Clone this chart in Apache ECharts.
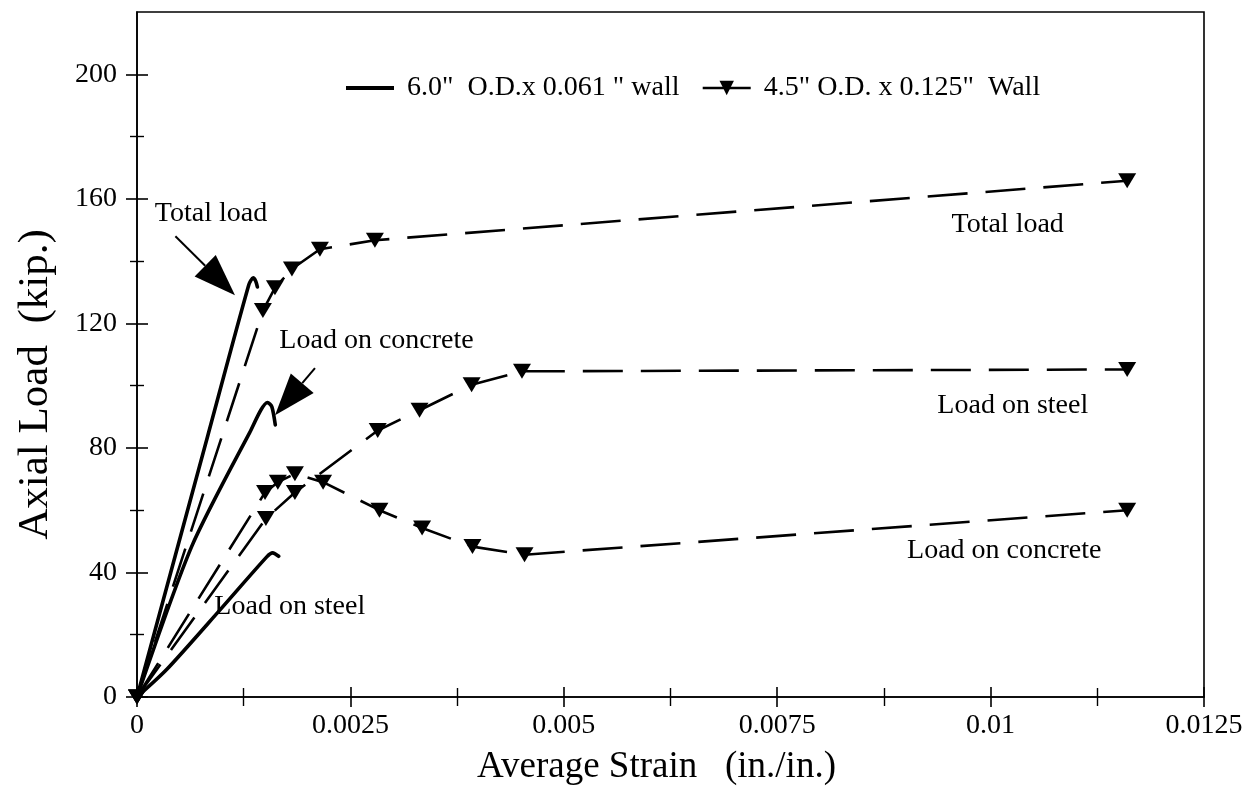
<!DOCTYPE html>
<html>
<head>
<meta charset="utf-8">
<script src="https://cdn.jsdelivr.net/npm/echarts@6/dist/echarts.min.js"></script>
<style>
  html, body { margin: 0; padding: 0; background: #ffffff; }
  #chart { width: 1249px; height: 793px; }
</style>
</head>
<body>
<div id="chart"></div>
<script>
// Axis tick labels
const xTickLabels = ['0', '0.0025', '0.005', '0.0075', '0.01', '0.0125'];
const yTickLabels = ['0', '40', '80', '120', '160', '200'];
const yTickValues = [0, 40, 80, 120, 160, 200];

// Specimen names (legend)
const tubeNames = ['6.0"  O.D.x 0.061 " wall', '4.5" O.D. x 0.125"  Wall'];

// 6.0" O.D. tube: [average strain, axial load (kip)]
const tube6Total    = [[0, 0], [0.00083, 84.0], [0.00131, 132.4], [0.00136, 134.6], [0.00139, 133.6], [0.00141, 131.7]];
const tube6Concrete = [[0, 0], [0.00064, 48.3], [0.00132, 84.9], [0.00153, 94.6], [0.00158, 93.2], [0.00162, 87.4]];
const tube6Steel    = [[0, 0], [0.00035, 8.9], [0.00097, 27.9], [0.00152, 45.0], [0.00159, 46.3], [0.00166, 45.2]];

// 4.5" O.D. tube: [average strain, axial load (kip)]
const tube45Total    = [[0, 0], [0.001475, 124.1], [0.001616, 131.4], [0.001815, 137.5], [0.002143, 143.8], [0.002787, 146.7], [0.0116, 165.8]];
const tube45Concrete = [[0, 0], [0.0015, 65.7], [0.00165, 69.0], [0.00185, 71.7], [0.00218, 69.0], [0.00284, 60.0], [0.00334, 54.3], [0.00393, 48.3], [0.00454, 45.7], [0.0116, 60.0]];
const tube45Steel    = [[0, 0], [0.00151, 57.3], [0.00185, 65.7], [0.00282, 85.6], [0.00331, 92.1], [0.00392, 100.3], [0.00451, 104.6], [0.0116, 105.2]];

// Curve captions, anchored in data units [strain, load]
const captionText = ['Total load', 'Load on concrete', 'Total load', 'Load on steel', 'Load on concrete', 'Load on steel'];
const captionAt   = [[0.000867, 155.4], [0.002806, 114.3], [0.0102, 151.6], [0.01026, 93.7], [0.01016, 46.9], [0.00179, 29.0]];
// Pointer arrows: tail -> tip, in data units
const arrowTail = [[0.00045, 148.0], [0.002085, 105.6]];
const arrowTip  = [[0.001148, 129.0], [0.001617, 90.5]];

const FONT = '"Liberation Serif", "Times New Roman", serif';
const INK = '#000000';

const chart = echarts.init(document.getElementById('chart'), null, { renderer: 'canvas' });

function xLabel(v) { return xTickLabels[Math.round(v / 0.0025)] ?? ''; }
function yLabel(v) { return yTickLabels[Math.round(v / 40)] ?? ''; }

const solid = (data) => ({
  name: tubeNames[0], type: 'line', data, smooth: 0.25, symbol: 'none',
  lineStyle: { color: INK, width: 3.6, cap: 'round', join: 'round' },
  itemStyle: { color: INK }, z: 3
});
const dashed = (data) => ({
  name: tubeNames[1], type: 'line', data, smooth: false,
  symbol: 'triangle', symbolRotate: 180, symbolSize: [18, 15],
  lineStyle: { color: INK, width: 2.6, type: [40, 18] },
  itemStyle: { color: INK }, z: 4
});

const baseX = {
  type: 'value', min: 0, max: 0.0125, interval: 0.0025,
  splitLine: { show: false },
  minorSplitLine: { show: false }
};
const baseY = {
  type: 'value', min: 0, max: 220, interval: 40,
  splitLine: { show: false },
  minorSplitLine: { show: false }
};

chart.setOption({
  animation: false,
  backgroundColor: '#ffffff',
  grid: {
    left: 137, right: 45, top: 12, bottom: 96,
    show: true, borderColor: INK, borderWidth: 1.6, backgroundColor: 'transparent'
  },
  legend: {
    left: 341, top: 69,
    itemWidth: 48, itemHeight: 18, itemGap: 22,
    textStyle: { fontFamily: FONT, fontSize: 28, color: INK, padding: [0, 0, 16, 8] },
    selectedMode: false,
    data: [
      { name: tubeNames[0], icon: 'path://M0 0 L48 0 L48 4 L0 4 Z' },
      { name: tubeNames[1], lineStyle: { type: 'solid', width: 2.4 } }
    ]
  },
  xAxis: [
    Object.assign({}, baseX, {
      name: 'Average Strain   (in./in.)', nameLocation: 'middle', nameGap: 52,
      nameTextStyle: { fontFamily: FONT, fontSize: 37, color: INK, padding: [0, 28, 0, 0] },
      axisLine: { show: true, lineStyle: { color: INK, width: 1.6 } },
      axisTick: { show: true, inside: false, length: 10, lineStyle: { color: INK, width: 1.6 } },
      minorTick: { show: true, splitNumber: 2, length: 9, lineStyle: { color: INK, width: 1.4 } },
      axisLabel: { fontFamily: FONT, fontSize: 28, color: INK, margin: 15, formatter: xLabel }
    }),
    Object.assign({}, baseX, {
      position: 'bottom',
      axisLine: { show: false },
      axisTick: { show: true, inside: true, length: 10, lineStyle: { color: INK, width: 1.6 } },
      minorTick: { show: true, splitNumber: 2, length: 9, lineStyle: { color: INK, width: 1.4 } },
      axisLabel: { show: false }
    })
  ],
  yAxis: [
    Object.assign({}, baseY, {
      name: 'Axial Load  (kip.)', nameLocation: 'middle', nameGap: 80, nameRotate: 90,
      nameTextStyle: { fontFamily: FONT, fontSize: 43, color: INK, padding: [0, 60, 0, 0] },
      axisLine: { show: true, lineStyle: { color: INK, width: 1.6 } },
      axisTick: { show: true, inside: false, length: 11, customValues: yTickValues, lineStyle: { color: INK, width: 1.6 } },
      minorTick: { show: true, splitNumber: 2, length: 7, lineStyle: { color: INK, width: 1.4 } },
      axisLabel: { fontFamily: FONT, fontSize: 28, color: INK, margin: 20, formatter: yLabel, customValues: yTickValues }
    }),
    Object.assign({}, baseY, {
      position: 'left',
      axisLine: { show: false },
      axisTick: { show: true, inside: true, length: 11, customValues: yTickValues, lineStyle: { color: INK, width: 1.6 } },
      minorTick: { show: true, splitNumber: 2, length: 7, lineStyle: { color: INK, width: 1.4 } },
      axisLabel: { show: false }
    })
  ],
  series: [
    solid(tube6Total), solid(tube6Concrete), solid(tube6Steel),
    dashed(tube45Total), dashed(tube45Concrete), dashed(tube45Steel)
  ]
});

// Captions and pointer arrows, placed through the chart's own coordinate system
function px(p) { return chart.convertToPixel({ gridIndex: 0 }, p); }

const graphics = [];
captionText.forEach((t, i) => {
  const [cx, cy] = px(captionAt[i]);
  graphics.push({
    type: 'text', x: cx, y: cy, z: 10,
    style: {
      text: t, font: '28px ' + FONT, fill: INK,
      align: 'center', verticalAlign: 'middle',
      textAlign: 'center', textVerticalAlign: 'middle'
    }
  });
});
arrowTail.forEach((tail, i) => {
  const a = px(tail), b = px(arrowTip[i]);
  const dx = b[0] - a[0], dy = b[1] - a[1];
  const len = Math.hypot(dx, dy);
  const ux = dx / len, uy = dy / len;
  const headLen = 42, headHalf = 15;
  const bx = b[0] - ux * headLen, by = b[1] - uy * headLen;
  graphics.push({
    type: 'line', z: 10,
    shape: { x1: a[0], y1: a[1], x2: bx, y2: by },
    style: { stroke: INK, lineWidth: 2 }
  });
  graphics.push({
    type: 'polygon', z: 10,
    shape: { points: [[b[0], b[1]], [bx - uy * headHalf, by + ux * headHalf], [bx + uy * headHalf, by - ux * headHalf]] },
    style: { fill: INK }
  });
});
chart.setOption({ graphic: graphics });
</script>
</body>
</html>
